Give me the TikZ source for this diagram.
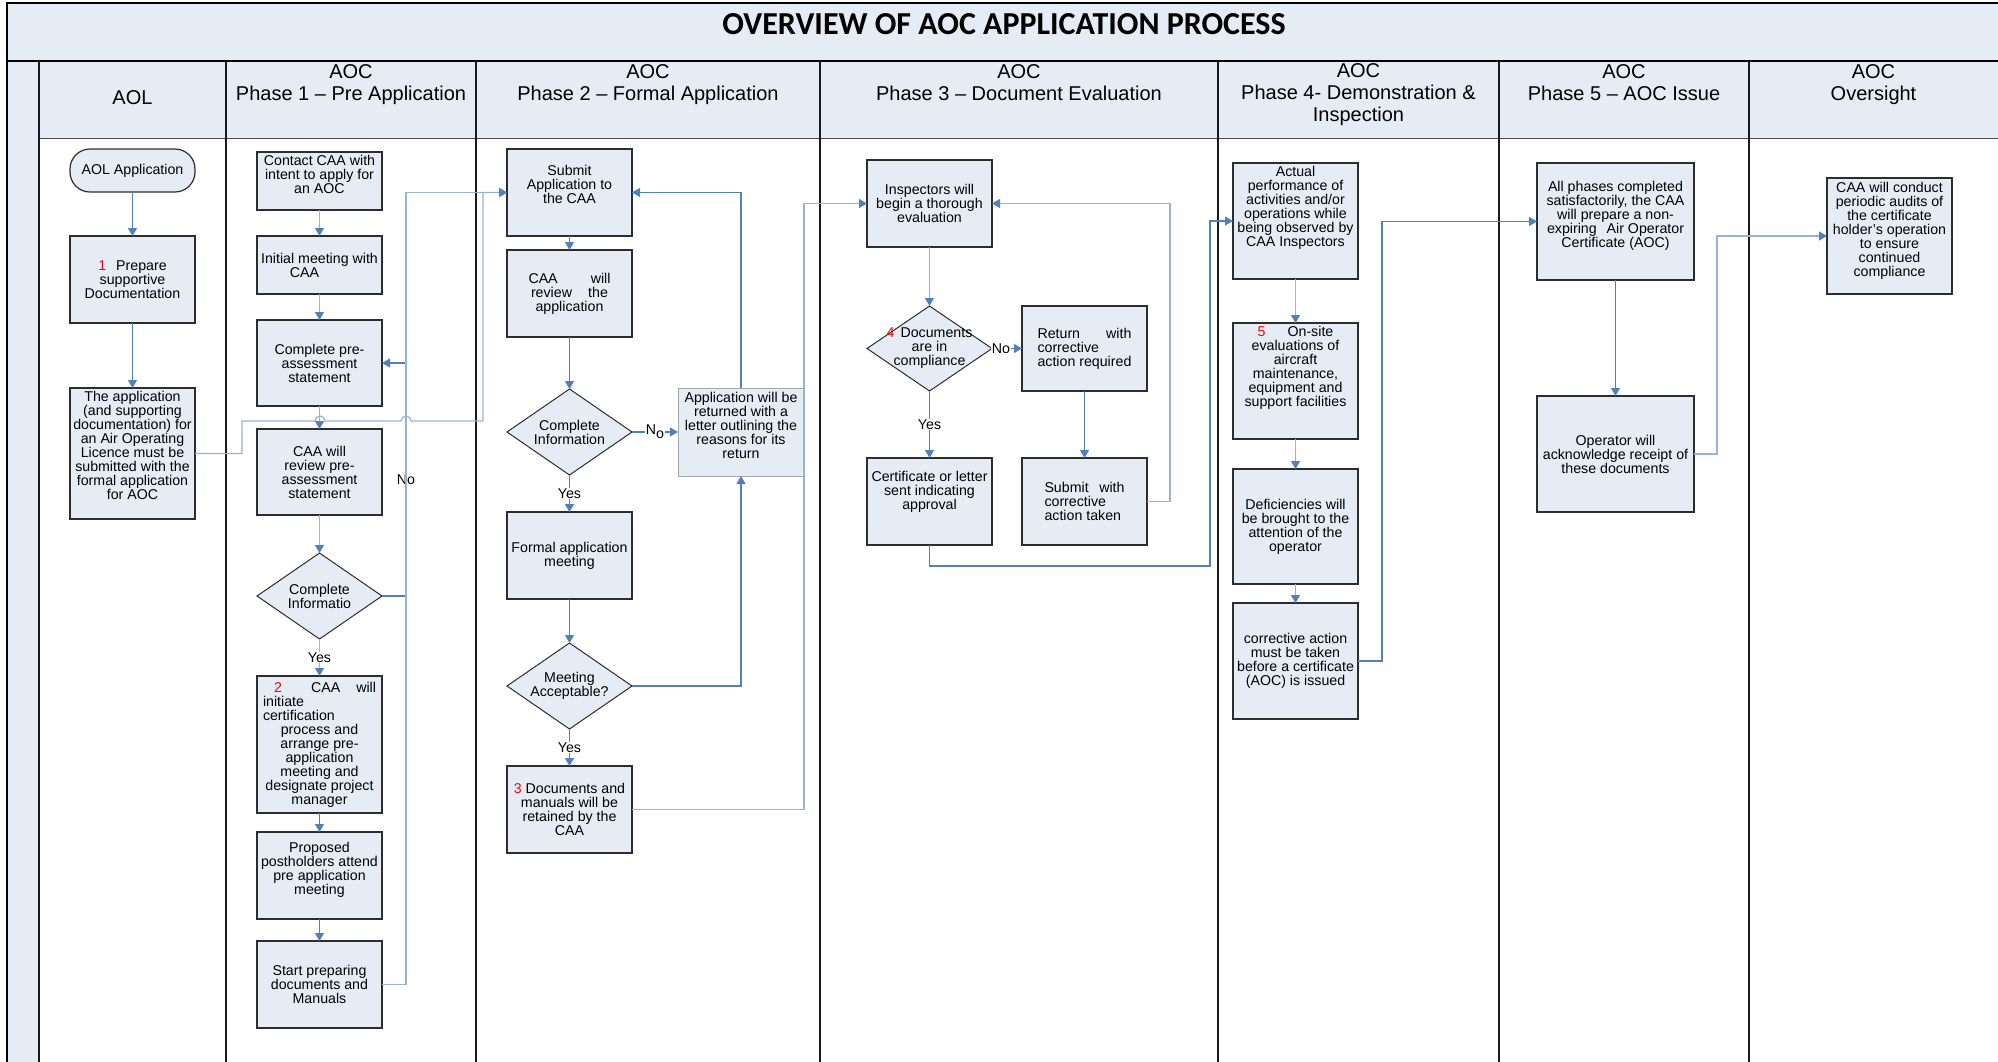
\documentclass[tikz,border=0pt]{standalone}
\usepackage{fontspec}
\setmainfont{Liberation Sans}
\newfontfamily\aoctitlefont{Carlito}
\usepackage{tikz}
\usetikzlibrary{shapes,positioning,calc}
\usetikzlibrary{shapes.geometric, arrows}
\usetikzlibrary{arrows.meta}
\definecolor{lanefill}{RGB}{230,236,246}
\definecolor{flowdark}{RGB}{79,129,189}
\definecolor{flowlight}{RGB}{149,179,215}
\definecolor{boxline}{RGB}{45,45,45}
\newcommand{\boxfont}{\fontsize{14.2}{14}\selectfont}
\newcommand{\headfont}{\fontsize{20}{22}\selectfont}
\newcommand{\bottompad}[1]{\\[#1]\mbox{}}
\tikzstyle{flow} = [line width=1.2pt, draw=flowdark, -{Triangle[length=8pt,width=9pt]}]
\tikzstyle{flowlt} = [line width=1.2pt, draw=flowlight, -{Triangle[length=8pt,width=9pt,color=flowdark]}]
\tikzstyle{lane} = [line width=1.8pt, draw=black!90]

\begin{document}
\begin{tikzpicture}[x=1pt, y=-1pt,
	box/.style={rectangle, draw=boxline, fill=lanefill, line width=1.2pt, minimum width=125pt, minimum height=#1, align=center, font=\boxfont, inner sep=2pt, outer sep=0pt},
	box/.default=87pt,
	choice/.style={diamond, draw=boxline, fill=lanefill, line width=1pt, minimum width=125pt, minimum height=86pt, inner sep=-12pt, outer sep=0pt, align=center, font=\boxfont},
	head/.style={align=center, font=\headfont},
	answer/.style={fill=white, inner sep=1pt, font=\boxfont}]
		
			\useasboundingbox (0,0) rectangle (1998,1061);
		
			% SWIMLANES
			
			\fill[lanefill] (7,3) rectangle (2010,61);
			\fill[lanefill] (7,61) rectangle (39,1070);
			\fill[lanefill] (39,61) rectangle (2010,138);
			\draw[line width=1.5pt] (7,1070) -- (7,3) -- (2010,3);
			\draw[line width=2.5pt] (7,61) -- (2010,61);
			\draw[line width=1pt, black!70] (39,138) -- (2010,138);
			\foreach \x in {39,226,476,820,1218,1499,1749}
				\draw[lane] (\x,61) -- (\x,1070);
			
			\node[font=\aoctitlefont\bfseries\fontsize{32}{34}\selectfont] (title) at (1004,24.5) {OVERVIEW OF AOC APPLICATION PROCESS};
			
			\node[head] (aolhead) at (132.5,98) {AOL};
			\node[head] (p1head) at (351,85) {AOC\\Phase 1 -- Pre Application};
			\node[head] (p2head) at (648,85) {AOC\\Phase 2 -- Formal Application};
			\node[head] (p3head) at (1019,83) {AOC\\Phase 3 -- Document Evaluation};
			\node[head] (p4head) at (1358.5,95) {AOC\\Phase 4- Demonstration \&\\Inspection};
			\node[head] (p5head) at (1624,83) {AOC\\Phase 5 -- AOC Issue};
			\node[head] (ovhead) at (1873.5,85) {AOC\\Oversight};
			
			% AOL
			
			\node[box=43pt, rounded corners=20pt] (aolapp) at (132.5,170.5) {AOL Application};
			\node[box, below=44pt of aolapp] (prep) {{\color{red}1}\hspace{10pt}Prepare\\supportive\\Documentation};
			\node[box=131pt, below=65pt of prep] (aolsub) {The application\\(and supporting\\documentation) for\\an Air Operating\\Licence must be\\submitted with the\\formal application\\for AOC\bottompad{3pt}};
			
			% PHASE 1
			
			\node[box=58pt] (contact) at (319.5,181) {Contact CAA with\\intent to apply for\\an AOC\bottompad{0pt}};
			\node[box=58pt, below=26pt of contact] (meet) {Initial meeting with\\\hspace*{-30pt}CAA};
			\node[box=86pt, below=26pt of meet] (preass) {Complete pre-\\assessment\\statement};
			\node[box=86pt, below=23pt of preass] (review) {CAA will\\review pre-\\assessment\\statement};
			\node[choice, below=38pt of review] (info) {Complete\\Informatio};
			\node[box=137pt, below=37pt of info] (initiate) {\makebox[113pt][r]{{\color{red}2}\hspace{29pt}CAA\hspace{16pt}will}\\\makebox[113pt][l]{initiate}\\\makebox[113pt][l]{certification}\\process and\\arrange pre-\\application\\meeting and\\designate project\\manager};
			\node[box, below=19pt of initiate] (posth) {Proposed\\postholders attend\\pre application\\meeting\bottompad{0pt}};
			\node[box, below=22pt of posth] (startdoc) {Start preparing\\documents and\\Manuals};
			
			% PHASE 2
			
			\node[box] (submit) at (569.5,192.5) {Submit\\Application to\\the CAA\bottompad{2pt}};
			\node[box, below=14pt of submit] (caarev) {\makebox[82pt]{CAA\hfill will}\\\makebox[77pt]{review\hfill the}\\application};
			\node[choice, below=52pt of caarev] (info2) {Complete\\Information};
			\node[box=88pt, minimum width=126pt, draw=black!35, line width=0.9pt, right=46pt of info2] (returned) {Application will be\\returned with a\\letter outlining the\\reasons for its\\return\bottompad{0pt}};
			\node[box, below=37pt of info2] (formal) {Formal application\\meeting};
			\node[choice, below=44pt of formal] (accept) {Meeting\\Acceptable?};
			\node[box, below=37pt of accept] (retain) {{\color{red}3} Documents and\\manuals will be\\retained by the\\CAA};
			
			% PHASE 3
			
			\node[box] (inspect) at (929.5,203.5) {Inspectors will\\begin a thorough\\evaluation};
			\node[choice, minimum height=85pt, below=59pt of inspect] (comply) {{\color{red}4}\hspace{6pt}Documents\\are in\\compliance};
			\node[box=85pt, right=30pt of comply] (retcorr) {\makebox[94pt]{Return\hfill with}\\\makebox[94pt][l]{corrective}\\\makebox[94pt][l]{action required}};
			\node[box, below=67pt of comply] (cert) {Certificate or letter\\sent indicating\\approval\bottompad{8pt}};
			\node[box, below=67pt of retcorr] (subcorr) {\makebox[80pt]{Submit\hfill with}\\\makebox[80pt][l]{corrective}\\\makebox[80pt][l]{action taken}};
			
			% PHASE 4
			
			\node[box=116pt] (actual) at (1295.5,221) {Actual\\performance of\\activities and/or\\operations while\\being observed by\\CAA Inspectors\bottompad{16pt}};
			\node[box=116pt, below=44pt of actual] (onsite) {{\color{red}5}\hspace{22pt}On-site\\evaluations of\\aircraft\\maintenance,\\equipment and\\support facilities\bottompad{16pt}};
			\node[box=115pt, below=30pt of onsite] (defic) {Deficiencies will\\be brought to the\\attention of the\\operator};
			\node[box=116pt, below=19pt of defic] (corract) {corrective action\\must be taken\\before a certificate\\(AOC) is issued};
			
			% PHASE 5 AND OVERSIGHT
			
			\node[box=117pt, minimum width=157pt] (allph) at (1615.5,221.5) {All phases completed\\satisfactorily, the CAA\\will prepare a non-\\expiring\hspace{6pt} Air Operator\\Certificate (AOC)\bottompad{0pt}};
			\node[box=116pt, minimum width=157pt, below=116pt of allph] (operator) {Operator will\\acknowledge receipt of\\these documents};
			\node[box=116pt] (audit) at (1889.5,236) {CAA will conduct\\periodic audits of\\the certificate\\holder’s operation\\to ensure\\continued\\compliance\bottompad{0pt}};
			
			% FLOWS
			
			\draw[flow] (aolapp) -- (prep);
			\draw[flow] (prep) -- (aolsub);
			\draw[flowlt] (aolsub.east) -- (242,453.5) -- (242,421) -- (315,421) arc[start angle=180, end angle=360, radius=5] -- (401,421) arc[start angle=180, end angle=360, radius=5] -- (483,421) -- (483,192.5) -- (submit.west);
			
			\draw[flowlt] (contact) -- (meet);
			\draw[flowlt] (meet) -- (preass);
			\draw[flowlt] (preass) -- (review);
			\draw[flowlt] (review) -- (info);
			\draw[flowlt] (info) -- node[answer] {Yes} (initiate);
			\draw[flow] (initiate) -- (posth);
			\draw[flow] (posth) -- (startdoc);
			\draw[flow] (info.east) -- ++(24,0) |- node[answer, pos=0.25] {No} (preass.east);
			\draw[flowlt] (startdoc.east) -- ++(24,0) |- (submit.west);
			
			\draw[flow] (submit) -- (caarev);
			\draw[flow] (caarev) -- (info2);
			\draw[flow] (info2) -- node[answer] {Yes} (formal);
			\draw[flow] (formal) -- (accept);
			\draw[flow] (accept) -- node[answer] {Yes} (retain);
			\draw[flow] (info2) -- node[answer] {N\raisebox{-4pt}{o}} (returned);
			\draw[flow] (returned.north) |- (submit.east);
			\draw[flow] (accept.east) -| (returned.south);
			\draw[flowlt] (retain.east) -| (returned.east |- inspect.west) -- (inspect.west);
			
			\draw[flowlt] (inspect) -- (comply);
			\draw[flow] (comply) -- node[answer] {Yes} (cert);
			\draw[flow] (comply) -- node[answer, pos=0.3] {No} (retcorr);
			\draw[flow] (retcorr) -- (subcorr);
			\draw[flowlt] (subcorr.east) -- ++(23,0) |- (inspect.east);
			\draw[flow] (cert.south) |- (1210,566) |- (actual.west);
			
			\draw[flowlt] (actual) -- (onsite);
			\draw[flowlt] (onsite) -- (defic);
			\draw[flowlt] (defic) -- (corract);
			\draw[flow] (corract.east) -- ++(24,0) |- (allph.west);
			
			\draw[flow] (allph) -- (operator);
			\draw[flowlt] (operator.east) -- ++(23,0) |- (audit.west);
			
		\end{tikzpicture}
\end{document}
